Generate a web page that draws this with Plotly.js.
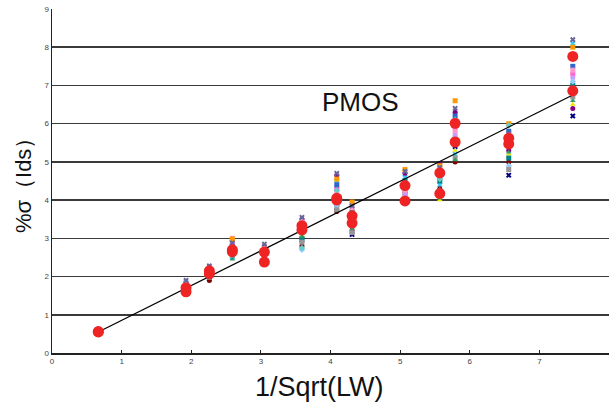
<!DOCTYPE html>
<html><head><meta charset="utf-8">
<script src="https://cdn.plot.ly/plotly-3.0.1.min.js"></script>
<style>html,body{margin:0;padding:0;background:#fff}</style>
</head><body>
<div id="chart" style="width:610px;height:415px"></div>
<script>
// x positions of each device group: 1/Sqrt(LW)
var xGroups = [0.665, 1.925, 2.26, 2.59, 3.05, 3.59, 4.09, 4.31, 5.07, 5.57, 5.79, 6.56, 7.48];

// small per-wafer/site markers
var s1  = [0.56, 1.65, 1.95, 2.55, 2.45, 2.95, 3.80, 3.10, 4.10, 4.20, 5.40, 4.65, 6.20];
var s2  = [0.58, 1.75, 2.10, 2.90, 2.60, 3.30, 4.30, 3.60, 4.40, 4.60, 5.90, 5.50, 7.30];
var s3  = [0.55, 1.70, 2.00, 2.60, 2.50, 3.10, 4.00, 3.40, 4.00, 4.00, 5.30, 5.20, 6.50];
var s4  = [0.57, 1.80, 2.20, 2.50, 2.55, 3.20, 4.50, 3.90, 4.60, 4.40, 5.20, 5.60, 8.10];
var s5  = [0.56, 1.85, 2.25, 2.95, 2.80, 3.50, 4.65, 3.20, 4.70, 4.95, 6.30, 5.30, 6.40];
var s6  = [0.55, 1.60, 1.90, 2.70, 2.40, 2.80, 3.70, 3.30, 4.20, 4.30, 5.00, 5.00, 6.90];
var s7  = [0.57, 1.68, 2.05, 2.80, 2.70, 3.00, 3.90, 3.70, 4.50, 4.50, 5.60, 5.10, 7.00];
var s8  = [0.56, 1.78, 2.15, 2.75, 2.65, 3.40, 4.40, 3.50, 4.30, 4.70, 6.20, 5.80, 7.50];
var s9  = [0.58, 1.82, 2.18, 3.00, 2.75, 3.45, 4.20, 3.80, 4.25, 4.80, 5.80, 5.70, 7.40];
var s10 = [0.55, 1.72, 2.08, 2.85, 2.50, 3.25, 4.10, 3.45, 4.15, 4.10, 5.70, 5.40, 7.20];
var s11 = [0.57, 1.88, 2.22, 2.65, 2.58, 2.70, 3.85, 3.55, 4.05, 4.25, 5.50, 4.90, 7.10];
var s12 = [0.56, 1.62, 1.98, 2.55, 2.42, 2.90, 3.75, 3.15, 4.00, 4.15, 5.10, 4.80, 6.70];
var s13 = [0.57, 1.76, 2.12, 2.98, 2.68, 3.35, 4.55, 3.95, 4.80, 4.90, 6.60, 6.00, 8.00];
var s14 = [0.56, 1.66, 2.02, 2.45, 2.48, 3.05, 3.95, 3.25, 4.35, 4.05, 5.05, 5.25, 6.60];
var s15 = [0.55, 1.74, 2.14, 2.62, 2.62, 2.75, 4.25, 3.65, 4.45, 4.55, 6.10, 5.95, 7.80];
var s16 = [0.58, 1.90, 2.28, 2.88, 2.85, 3.55, 4.70, 3.85, 4.75, 4.85, 6.40, 5.75, 8.20];

// large red markers (two summary values per group)
var redA = [0.56, 1.71, 2.15, 2.70, 2.64, 3.33, 4.05, 3.59, 4.38, 4.71, 6.01, 5.62, 7.76];
var redB = [0.55, 1.60, 2.07, 2.65, 2.38, 3.22, 4.00, 3.40, 3.98, 4.17, 5.52, 5.47, 6.86];

// fitted line end points
var fitX = [0.665, 7.48];
var fitY = [0.55, 6.75];

var xTicks = [0, 1, 2, 3, 4, 5, 6, 7, 8];
var yTicks = [0, 1, 2, 3, 4, 5, 6, 7, 8, 9];

var smallSeries = [s1,s2,s3,s4,s5,s6,s7,s8,s9,s10,s11,s12,s13,s14,s15,s16];
var colors = ['#000080','#FF66CC','#E8E800','#33CCFF','#800080','#800000','#008080','#3366CC',
              '#FF99CC','#CC99FF','#99CCFF','#969696','#FF9900','#339966','#66CCCC','#666699'];
var symbols = ['x','square','triangle-up','x','circle','circle','square','square',
               'square','circle','diamond','square','square','triangle-up','diamond','x'];

var traces = [];
smallSeries.forEach(function(s, i){
  traces.push({x: xGroups, y: s, type:'scatter', mode:'markers', showlegend:false, hoverinfo:'skip',
    marker:{color: colors[i], symbol: symbols[i], size: 5, line:{width:0}}});
});
traces.push({x: fitX, y: fitY, type:'scatter', mode:'lines', showlegend:false,
  line:{color:'#000', width:1.3}});
traces.push({x: xGroups, y: redA, type:'scatter', mode:'markers', showlegend:false,
  marker:{color:'#EE2424', size:11}});
traces.push({x: xGroups, y: redB, type:'scatter', mode:'markers', showlegend:false,
  marker:{color:'#EE2424', size:11}});

var FONT = 'Arial, Liberation Sans, sans-serif';
var tickFont = {family:FONT, size:8, color:'#444'};

var layout = {
  width:610, height:415,
  margin:{l:52, r:1, t:9, b:62, pad:0},
  paper_bgcolor:'#fff', plot_bgcolor:'#fff',
  xaxis:{range:[0,8], tickvals:xTicks, ticktext:xTicks.map(String), showgrid:false, zeroline:false,
    showline:true, linecolor:'#222', linewidth:1.5, ticks:'inside', ticklen:3, tickcolor:'#222',
    tickfont:tickFont, title:{text:''}},
  yaxis:{range:[0,9], tickvals:yTicks, ticktext:yTicks.map(String), showgrid:true, gridcolor:'#3a3a3a', gridwidth:1.5,
    zeroline:false, showline:true, linecolor:'#222', linewidth:1.5, ticks:'', tickfont:tickFont, title:{text:''}},
  annotations:[
    {x:4.43, y:6.57, xref:'x', yref:'y', text:'PMOS', showarrow:false,
     font:{family:FONT, size:26, color:'#111'}},
    {x:0.481, y:-0.098, xref:'paper', yref:'paper', xanchor:'center', yanchor:'middle', text:'1/Sqrt(LW)', showarrow:false,
     font:{family:FONT, size:27, color:'#111'}},
    {x:-0.05, y:0.503, xref:'paper', yref:'paper', xanchor:'center', yanchor:'middle', textangle:-90, text:'%σ（Ids）', showarrow:false,
     font:{family:FONT, size:22, color:'#111'}}
  ]
};

Plotly.newPlot('chart', traces, layout, {displayModeBar:false, staticPlot:true});
</script>
</body></html>
